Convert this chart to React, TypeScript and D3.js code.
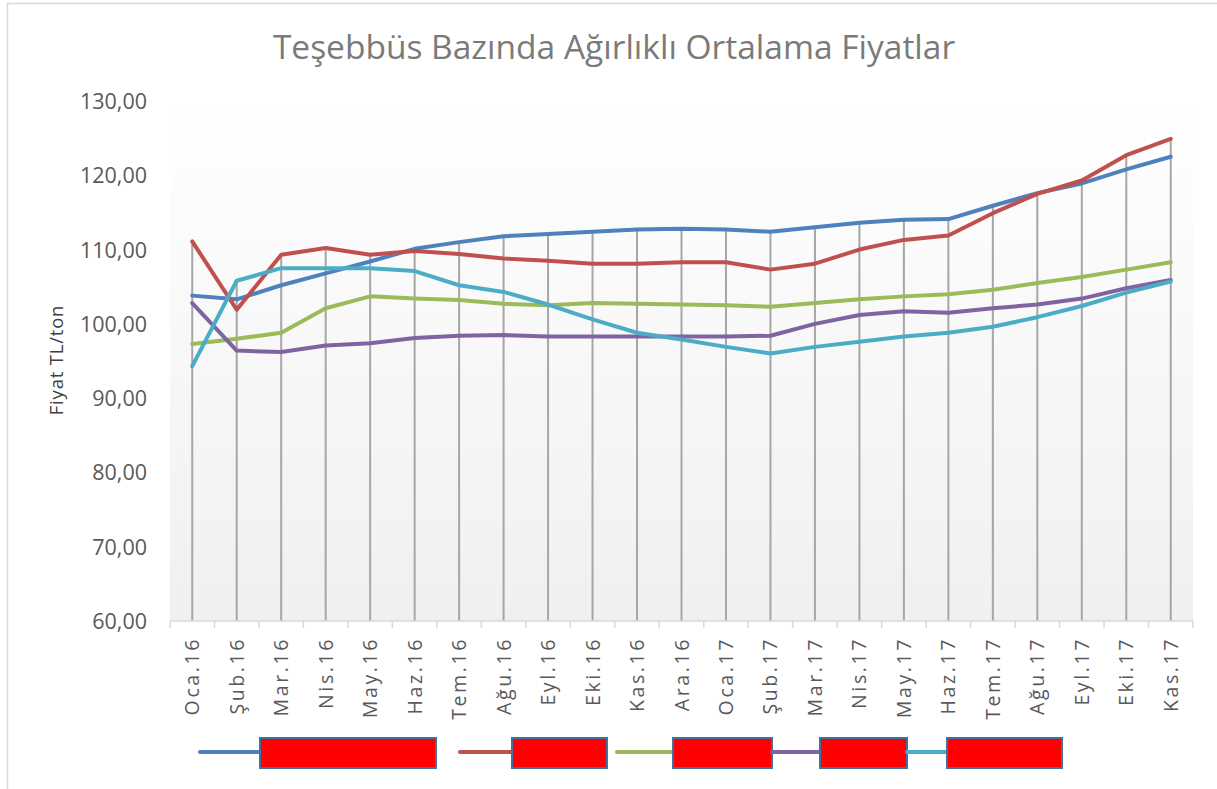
import React from "react";
import * as d3 from "d3";

const categories = [
  "Oca.16", "Şub.16", "Mar.16", "Nis.16", "May.16", "Haz.16", "Tem.16", "Ağu.16", "Eyl.16", "Eki.16", "Kas.16", "Ara.16",
  "Oca.17", "Şub.17", "Mar.17", "Nis.17", "May.17", "Haz.17", "Tem.17", "Ağu.17", "Eyl.17", "Eki.17", "Kas.17",
];

const seriesA = [103.8, 103.3, 105.2, 106.8, 108.4, 110.1, 111.0, 111.8, 112.1, 112.4, 112.7, 112.8, 112.7, 112.4, 113.0, 113.6, 114.0, 114.1, 115.9, 117.6, 118.9, 120.8, 122.5];
const seriesB = [111.1, 101.9, 109.3, 110.2, 109.3, 109.8, 109.4, 108.8, 108.5, 108.1, 108.1, 108.3, 108.3, 107.3, 108.1, 110.0, 111.3, 111.9, 114.9, 117.5, 119.3, 122.7, 124.9];
const seriesC = [97.3, 98.0, 98.8, 102.1, 103.7, 103.4, 103.2, 102.7, 102.5, 102.8, 102.7, 102.6, 102.5, 102.3, 102.8, 103.3, 103.7, 104.0, 104.6, 105.5, 106.3, 107.3, 108.3];
const seriesD = [102.8, 96.4, 96.2, 97.1, 97.4, 98.1, 98.4, 98.5, 98.3, 98.3, 98.3, 98.3, 98.3, 98.4, 100.0, 101.2, 101.7, 101.5, 102.1, 102.6, 103.4, 104.8, 105.9];
const seriesE = [94.3, 105.8, 107.5, 107.5, 107.5, 107.1, 105.2, 104.3, 102.6, 100.6, 98.8, 97.9, 96.9, 96.0, 96.9, 97.6, 98.3, 98.8, 99.6, 100.9, 102.4, 104.2, 105.7];

const seriesNames = ["Seri 1", "Seri 2", "Seri 3", "Seri 4", "Seri 5"];
const seriesColors = ["#4f81bd", "#c0504d", "#9bbb59", "#8064a2", "#4bacc6"];
const yTicks = [60, 70, 80, 90, 100, 110, 120, 130];

const title = "Teşebbüs Bazında Ağırlıklı Ortalama Fiyatlar";
const yTitle = "Fiyat TL/ton";

// legend layout: [lineStart, lineEnd, boxStart, boxEnd]
const legendLayout = [
  [200, 258, 260, 436],
  [460, 512, 512, 607],
  [617, 673, 673, 772],
  [772, 820, 820, 907],
  [907, 947, 947, 1062],
];

export default function App() {
  const allSeries = [seriesA, seriesB, seriesC, seriesD, seriesE];
  const left = 170, right = 1193, top = 101, bottom = 621;
  const x = d3.scaleBand<string>().domain(categories).range([left, right]).padding(0);
  const y = d3.scaleLinear().domain([60, 130]).range([bottom, top]);
  const cx = (c: string) => (x(c) as number) + x.bandwidth() / 2;
  const line = d3.line<number>().x((_, i) => cx(categories[i])).y((v) => y(v));
  const font = "'Open Sans', 'Liberation Sans', sans-serif";
  const fmt = (v: number) => v.toFixed(2).replace(".", ",");

  return (
    <svg width={1217} height={789} style={{ position: "absolute", left: 0, top: 0 }} fontFamily={font}>
      <defs>
        <linearGradient id="bg" x1="0" y1="0" x2="0" y2="1">
          <stop offset="0" stopColor="#ffffff" />
          <stop offset="1" stopColor="#f0f0f0" />
        </linearGradient>
      </defs>
      <rect x={0} y={0} width={1217} height={789} fill="#fff" />
      <rect x={7.5} y={3.5} width={1230} height={800} fill="#fff" stroke="#d9d9d9" strokeWidth={1.5} />
      <text x={614} y={59} textAnchor="middle" fontSize={33.5} fill="#7a7a7a">{title}</text>
      <rect x={left} y={top} width={right - left} height={bottom - top} fill="url(#bg)" />
      {/* y tick labels */}
      {yTicks.map((t) => (
        <text key={t} x={147} y={y(t) + 8} textAnchor="end" fontSize={21.5} fill="#595959">{fmt(t)}</text>
      ))}
      <text transform={`translate(63,360) rotate(-90)`} textAnchor="middle" fontSize={18.5} letterSpacing={0.8} fill="#404040">{yTitle}</text>
      {/* drop lines */}
      {categories.map((c, i) => {
        const mx = d3.max(allSeries, (s) => s[i]) as number;
        return <line key={c} x1={cx(c)} x2={cx(c)} y1={y(mx)} y2={y(60)} stroke="#a6a6a6" strokeWidth={2} />;
      })}
      {/* axis */}
      <line x1={left} x2={right} y1={bottom} y2={bottom} stroke="#d9d9d9" strokeWidth={1.5} />
      {categories.concat(["__end"]).map((c, i) => {
        const xx = left + i * x.bandwidth();
        return <line key={"t" + i} x1={xx} x2={xx} y1={bottom} y2={bottom + 7} stroke="#d9d9d9" strokeWidth={1.5} />;
      })}
      {categories.map((c) => (
        <text key={"l" + c} transform={`translate(${cx(c) + 7},637) rotate(-90)`} textAnchor="end" fontSize={19.5} letterSpacing={2.6} fill="#595959">{c}</text>
      ))}
      {/* series */}
      {allSeries.map((s, k) => (
        <path key={k} d={line(s) as string} fill="none" stroke={seriesColors[k]} strokeWidth={4} strokeLinejoin="round" strokeLinecap="round" />
      ))}
      {/* legend */}
      {legendLayout.map((l, k) => (
        <g key={"lg" + k}>
          <line x1={l[0]} x2={l[1]} y1={752} y2={752} stroke={seriesColors[k]} strokeWidth={4} strokeLinecap="round" />
          <text x={l[2] + 4} y={758} fontSize={16} fill="#595959">{seriesNames[k]}</text>
          <rect x={l[2]} y={738} width={l[3] - l[2]} height={30} fill="#ff0000" stroke="#41719c" strokeWidth={2} />
        </g>
      ))}
    </svg>
  );
}
